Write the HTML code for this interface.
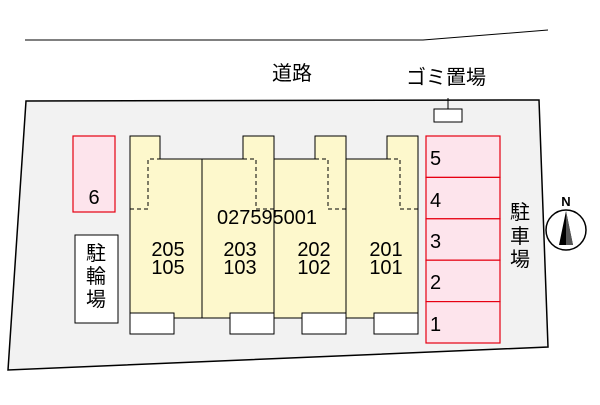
<!DOCTYPE html>
<html><head><meta charset="utf-8"><style>
body{margin:0;background:#fff}
svg text{font-family:"Liberation Sans","Noto Sans CJK JP",sans-serif;fill:#000}
</style></head><body>
<svg width="600" height="400" viewBox="0 0 600 400" xmlns="http://www.w3.org/2000/svg">
<polyline points="25,40 423,40 548,30" fill="none" stroke="#000" stroke-width="1"/>
<text x="292" y="80" font-size="20" text-anchor="middle">道路</text>
<text x="446" y="84" font-size="20" text-anchor="middle">ゴミ置場</text>
<polygon points="26,101 539,100 548,347 8,370" fill="#f2f2f2" stroke="#000" stroke-width="1.5"/>
<line x1="448" y1="98" x2="448" y2="114" stroke="#000"/>
<rect x="434" y="109" width="28" height="13" fill="#fff" stroke="#000"/>
<path d="M130,136H160V159H243V136H274V159H315V136H346V159H387V136H418V318H130Z" fill="#fdf8cc" stroke="#000" stroke-width="1"/>
<g stroke="#000" stroke-width="1">
<line x1="202" y1="159" x2="202" y2="318"/>
<line x1="274" y1="159" x2="274" y2="318"/>
<line x1="346" y1="159" x2="346" y2="318"/>
</g>
<g fill="none" stroke="#000" stroke-dasharray="4,3">
<path d="M130,209H148V159H160"/>
<path d="M243,159H256V209H274"/>
<path d="M315,159H328V209H346"/>
<path d="M387,159H400V209H418"/>
</g>
<g fill="#fff" stroke="#000">
<rect x="130" y="313" width="44" height="21"/>
<rect x="230" y="313" width="44" height="21"/>
<rect x="302" y="313" width="44" height="21"/>
<rect x="374" y="313" width="44" height="21"/>
</g>
<text x="267" y="224" font-size="20" text-anchor="middle" textLength="100" lengthAdjust="spacingAndGlyphs">027595001</text>
<g font-size="20" text-anchor="middle">
<text x="168" y="256">205</text><text x="168" y="274">105</text>
<text x="240" y="256">203</text><text x="240" y="274">103</text>
<text x="314" y="256">202</text><text x="314" y="274">102</text>
<text x="386" y="256">201</text><text x="386" y="274">101</text>
</g>
<rect x="73" y="136" width="42" height="76" fill="#fde4ec" stroke="#e60012" stroke-width="1.2"/>
<text x="94" y="204" font-size="20" text-anchor="middle">6</text>
<rect x="75" y="235" width="43" height="88" fill="#fff" stroke="#000"/>
<text x="96" y="260" font-size="20" text-anchor="middle">駐</text>
<text x="96" y="283" font-size="20" text-anchor="middle">輪</text>
<text x="96" y="306" font-size="20" text-anchor="middle">場</text>
<g fill="#fde4ec" stroke="#e60012" stroke-width="1.2">
<rect x="426" y="136" width="74" height="41.4"/>
<rect x="426" y="177.4" width="74" height="41.4"/>
<rect x="426" y="218.8" width="74" height="41.4"/>
<rect x="426" y="260.2" width="74" height="41.4"/>
<rect x="426" y="301.6" width="74" height="41.4"/>
</g>
<g font-size="20">
<text x="430" y="165">5</text><text x="430" y="207">4</text><text x="430" y="248">3</text><text x="430" y="289">2</text><text x="430" y="331">1</text>
</g>
<text x="520" y="219" font-size="20" text-anchor="middle">駐</text>
<text x="520" y="243" font-size="20" text-anchor="middle">車</text>
<text x="520" y="266" font-size="20" text-anchor="middle">場</text>
<text x="566" y="206" font-size="13" text-anchor="middle" font-weight="bold">N</text>
<circle cx="566" cy="230" r="20" fill="#fff" stroke="#000" stroke-width="1.5"/>
<polygon points="566,211 559,245 573,245" fill="#000"/>
<polygon points="566,211 566,245 573,245" fill="#555"/>
</svg>
</body></html>
